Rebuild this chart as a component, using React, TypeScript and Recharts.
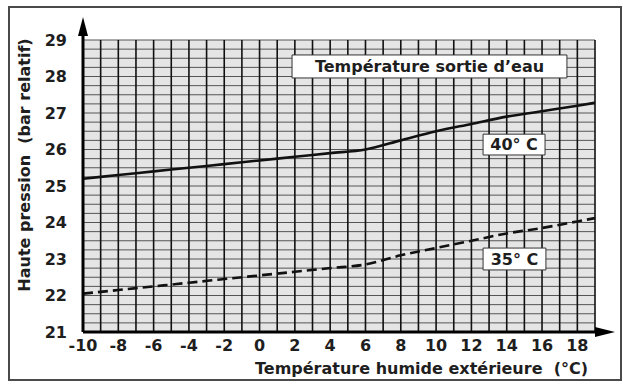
import React from "react";
import {
  LineChart,
  Line,
  XAxis,
  YAxis,
  CartesianGrid,
  ReferenceArea,
  ReferenceDot,
} from "recharts";

// Température humide extérieure (°C)
const temps = [-10, -8, -6, -4, -2, 0, 2, 4, 6, 8, 10, 12, 14, 16, 18, 19];
// Haute pression (bar relatif), sortie d'eau 40° C
const p40 = [25.2, 25.3, 25.4, 25.5, 25.6, 25.7, 25.8, 25.9, 26.0, 26.25, 26.5, 26.7, 26.9, 27.05, 27.2, 27.28];
// Haute pression (bar relatif), sortie d'eau 35° C
const p35 = [22.05, 22.15, 22.25, 22.35, 22.45, 22.55, 22.65, 22.75, 22.85, 23.1, 23.3, 23.5, 23.7, 23.85, 24.03, 24.12];

const xTicks = [-10, -8, -6, -4, -2, 0, 2, 4, 6, 8, 10, 12, 14, 16, 18];
const yTicks = [21, 22, 23, 24, 25, 26, 27, 28, 29];

// grid: one vertical line per degree, four horizontal lines per bar
const xGrid = Array.from({ length: 29 }, (_, i) => -9 + i);
const yGrid = Array.from({ length: 32 }, (_, i) => 21.25 + i * 0.25);

const data = temps.map((t, i) => ({ t, p40: p40[i], p35: p35[i] }));

const FONT = "'DejaVu Sans', Verdana, sans-serif";
const INK = "#1e1e1e";

const UpArrow = (props: any) => {
  const { cx, cy } = props;
  return (
    <g>
      <line x1={cx} y1={cy} x2={cx} y2={cy - 6} stroke="#000" strokeWidth={3} />
      <polygon points={`${cx - 5},${cy - 4} ${cx + 5},${cy - 4} ${cx},${cy - 23}`} fill="#000" />
    </g>
  );
};

const RightArrow = (props: any) => {
  const { cx, cy } = props;
  return (
    <polygon points={`${cx},${cy - 5} ${cx},${cy + 5} ${cx + 20},${cy}`} fill="#000" />
  );
};

const boxLabel = (text: string, size: number) => ({
  value: text,
  position: "center" as const,
  fill: INK,
  fontSize: size,
  fontWeight: 700,
  fontFamily: FONT,
});

export default function App() {
  return (
    <div style={{ position: "absolute", left: 0, top: 0, width: 624, height: 381, background: "#fff" }}>
      <div
        style={{
          position: "absolute",
          left: 8,
          top: 6,
          width: 610,
          height: 371,
          border: "2px solid #4a4a4a",
        }}
      />
      <div style={{ position: "absolute", left: 0, top: 0 }}>
        <LineChart
          width={624}
          height={381}
          data={data}
          margin={{ top: 40, right: 29, left: 23, bottom: 19 }}
        >
          <CartesianGrid
            vertical={false}
            horizontalValues={yGrid}
            stroke="#555"
            strokeWidth={1}
            fill="#e5e5e5"
            fillOpacity={1}
          />
          <CartesianGrid
            horizontal={false}
            verticalValues={xGrid}
            stroke="#111"
            strokeWidth={1.6}
          />

          <Line
            type="monotone"
            dataKey="p40"
            stroke="#111"
            strokeWidth={2.6}
            dot={false}
            isAnimationActive={false}
          />
          <Line
            type="monotone"
            dataKey="p35"
            stroke="#111"
            strokeWidth={2.6}
            strokeDasharray="10 5"
            dot={false}
            isAnimationActive={false}
          />

          <ReferenceArea
            x1={1.84}
            x2={17.41}
            y1={27.96}
            y2={28.59}
            fill="#fff"
            fillOpacity={1}
            stroke="#333"
            strokeWidth={1}
            label={boxLabel("Température sortie d’eau", 16)}
          />
          <ReferenceArea
            x1={12.66}
            x2={16.17}
            y1={25.85}
            y2={26.42}
            fill="#fff"
            fillOpacity={1}
            stroke="#333"
            strokeWidth={1}
            label={boxLabel("40° C", 16)}
          />
          <ReferenceArea
            x1={12.66}
            x2={16.22}
            y1={22.7}
            y2={23.3}
            fill="#fff"
            fillOpacity={1}
            stroke="#333"
            strokeWidth={1}
            label={boxLabel("35° C", 16)}
          />

          <XAxis
            dataKey="t"
            type="number"
            domain={[-10, 19]}
            ticks={xTicks}
            interval={0}
            allowDataOverflow
            height={30}
            tickSize={0}
            tickMargin={8}
            tickLine={false}
            axisLine={{ stroke: "#000", strokeWidth: 3 }}
            tick={{ fill: INK, fontSize: 16, fontWeight: 700, fontFamily: FONT }}
          />
          <YAxis
            type="number"
            domain={[21, 29]}
            ticks={yTicks}
            interval={0}
            allowDataOverflow
            width={60}
            tickSize={0}
            tickMargin={16}
            tickLine={false}
            axisLine={{ stroke: "#000", strokeWidth: 3 }}
            tick={{ fill: INK, fontSize: 16, fontWeight: 700, fontFamily: FONT }}
          />
          <ReferenceDot x={-10} y={29} ifOverflow="visible" shape={UpArrow} />
          <ReferenceDot x={19} y={21} ifOverflow="visible" shape={RightArrow} />
        </LineChart>
      </div>
      <svg
        width={624}
        height={381}
        style={{ position: "absolute", left: 0, top: 0, pointerEvents: "none" }}
      >
        <text
          x={588}
          y={374}
          textAnchor="end"
          fill={INK}
          fontSize={16}
          fontWeight={700}
          fontFamily={FONT}
          style={{ whiteSpace: "pre" }}
        >
          {"Température humide extérieure  (°C)"}
        </text>
        <text
          transform="translate(30,165) rotate(-90)"
          textAnchor="middle"
          fill={INK}
          fontSize={16}
          fontWeight={700}
          fontFamily={FONT}
          style={{ whiteSpace: "pre" }}
        >
          {"Haute pression  (bar relatif)"}
        </text>
      </svg>
    </div>
  );
}
